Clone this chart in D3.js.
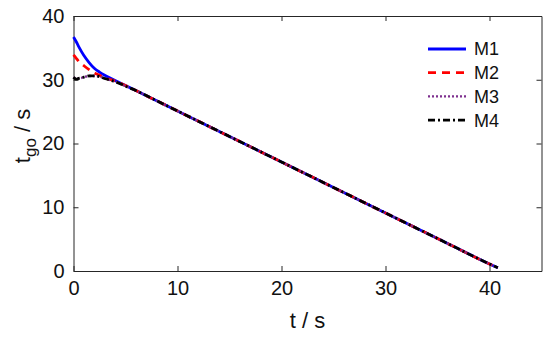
<!DOCTYPE html>
<html>
<head>
<meta charset="utf-8">
<script src="https://cdn.jsdelivr.net/npm/d3@7"></script>
<style>
  body { margin: 0; background: #fff; }
  svg { font-family: "Liberation Sans", Arial, sans-serif; }
</style>
</head>
<body>
<svg id="chart"></svg>
<script>
// time samples (s) and the four tgo curves
var time = [0, 0.25, 0.5, 1, 1.5, 2, 2.5, 3, 4, 5, 6, 8, 10, 15, 20, 25, 30, 35, 40, 40.8];
var m1 = [36.7, 36.0, 35.2, 33.8, 32.7, 31.8, 31.2, 30.7, 29.9, 29.1, 28.3, 26.7, 25.1, 21.1, 17.1, 13.1, 9.1, 5.1, 1.1, 0.5];
var m2 = [33.9, 33.4, 32.9, 32.2, 31.6, 31.1, 30.7, 30.3, 29.8, 29.1, 28.3, 26.7, 25.1, 21.1, 17.1, 13.1, 9.1, 5.1, 1.1, 0.5];
var m3 = [30.4, 30.2, 30.2, 30.4, 30.6, 30.6, 30.5, 30.2, 29.7, 29.0, 28.3, 26.7, 25.1, 21.1, 17.1, 13.1, 9.1, 5.1, 1.1, 0.5];
var m4 = [30.4, 30.1, 30.2, 30.4, 30.6, 30.6, 30.5, 30.2, 29.7, 29.0, 28.3, 26.7, 25.1, 21.1, 17.1, 13.1, 9.1, 5.1, 1.1, 0.5];
var names = ["M1", "M2", "M3", "M4"];
var xTicks = [0, 10, 20, 30, 40];
var yTicks = [0, 10, 20, 30, 40];

var width = 550, height = 337;
var margin = {top: 16, right: 8.5, bottom: 66, left: 73.5};

var svg = d3.select("#chart")
  .attr("width", width)
  .attr("height", height);

var x = d3.scaleLinear().domain([0, 45]).range([margin.left, width - margin.right]);
var y = d3.scaleLinear().domain([0, 40]).range([height - margin.bottom, margin.top]);

var axisColor = "#262626";

// axes (ticks inside, box on)
svg.append("g")
  .attr("transform", "translate(0," + y(0) + ")")
  .call(d3.axisBottom(x).tickValues(xTicks).tickSizeInner(-5).tickSizeOuter(0).tickPadding(9))
  .call(function (g) {
    g.select(".domain").attr("stroke", axisColor);
    g.selectAll("line").attr("stroke", axisColor);
    g.selectAll("text").attr("font-size", 20).attr("fill", "#111").attr("dy", "0.75em");
  });

svg.append("g")
  .attr("transform", "translate(" + x(0) + ",0)")
  .call(d3.axisLeft(y).tickValues(yTicks).tickSizeInner(-5).tickSizeOuter(0).tickPadding(9))
  .call(function (g) {
    g.select(".domain").attr("stroke", axisColor);
    g.selectAll("line").attr("stroke", axisColor);
    g.selectAll("text").attr("font-size", 20).attr("fill", "#111");
  });

svg.append("g")
  .attr("transform", "translate(0," + y(40) + ")")
  .call(d3.axisTop(x).tickValues(xTicks).tickSizeInner(-5).tickSizeOuter(0).tickFormat(""))
  .call(function (g) {
    g.select(".domain").attr("stroke", axisColor);
    g.selectAll("line").attr("stroke", axisColor);
  });

svg.append("g")
  .attr("transform", "translate(" + x(45) + ",0)")
  .call(d3.axisRight(y).tickValues(yTicks).tickSizeInner(-5).tickSizeOuter(0).tickFormat(""))
  .call(function (g) {
    g.select(".domain").attr("stroke", axisColor);
    g.selectAll("line").attr("stroke", axisColor);
  });

// lines
var series = [
  {name: "M1", values: m1, color: "#0000ff", dash: null, w: 2.8},
  {name: "M2", values: m2, color: "#ff0000", dash: "8,6", w: 2.8},
  {name: "M3", values: m3, color: "#7e2f8e", dash: "2,2", w: 2.4},
  {name: "M4", values: m4, color: "#000000", dash: "7,3,2,3", w: 2.8}
];

var line = d3.line()
  .x(function (d) { return x(d[0]); })
  .y(function (d) { return y(d[1]); })
  .curve(d3.curveMonotoneX);

svg.selectAll("path.series")
  .data(series)
  .enter()
  .append("path")
  .attr("class", "series")
  .attr("fill", "none")
  .attr("stroke", function (d) { return d.color; })
  .attr("stroke-width", function (d) { return d.w; })
  .attr("stroke-dasharray", function (d) { return d.dash; })
  .attr("d", function (d) {
    return line(time.map(function (t, i) { return [t, d.values[i]]; }));
  });

// legend
var legende = svg.selectAll(".legend")
  .data(series)
  .enter()
  .append("g")
  .attr("class", "legend")
  .attr("transform", function (d, i) {
    return "translate(428," + (49 + i * 23.7) + ")";
  });

legende.append("line")
  .attr("x1", 0).attr("x2", 38)
  .attr("stroke", function (d) { return d.color; })
  .attr("stroke-width", function (d) { return d.w; })
  .attr("stroke-dasharray", function (d) { return d.dash; });

legende.append("text")
  .attr("x", 46)
  .attr("dy", "0.36em")
  .attr("font-size", 18)
  .attr("fill", "#111")
  .text(function (d) { return d.name; });

// axis titles
svg.append("text")
  .attr("x", (x(0) + x(45)) / 2)
  .attr("y", 328)
  .attr("text-anchor", "middle")
  .attr("font-size", 22)
  .attr("fill", "#111")
  .text("t / s");

var ylab = svg.append("text")
  .attr("transform", "translate(30,136) rotate(-90)")
  .attr("text-anchor", "middle")
  .attr("font-size", 22)
  .attr("fill", "#111");
ylab.append("tspan").text("t");
ylab.append("tspan").attr("dy", 6).attr("font-size", 17).text("go");
ylab.append("tspan").attr("dy", -6).text(" / s");
</script>
</body>
</html>
